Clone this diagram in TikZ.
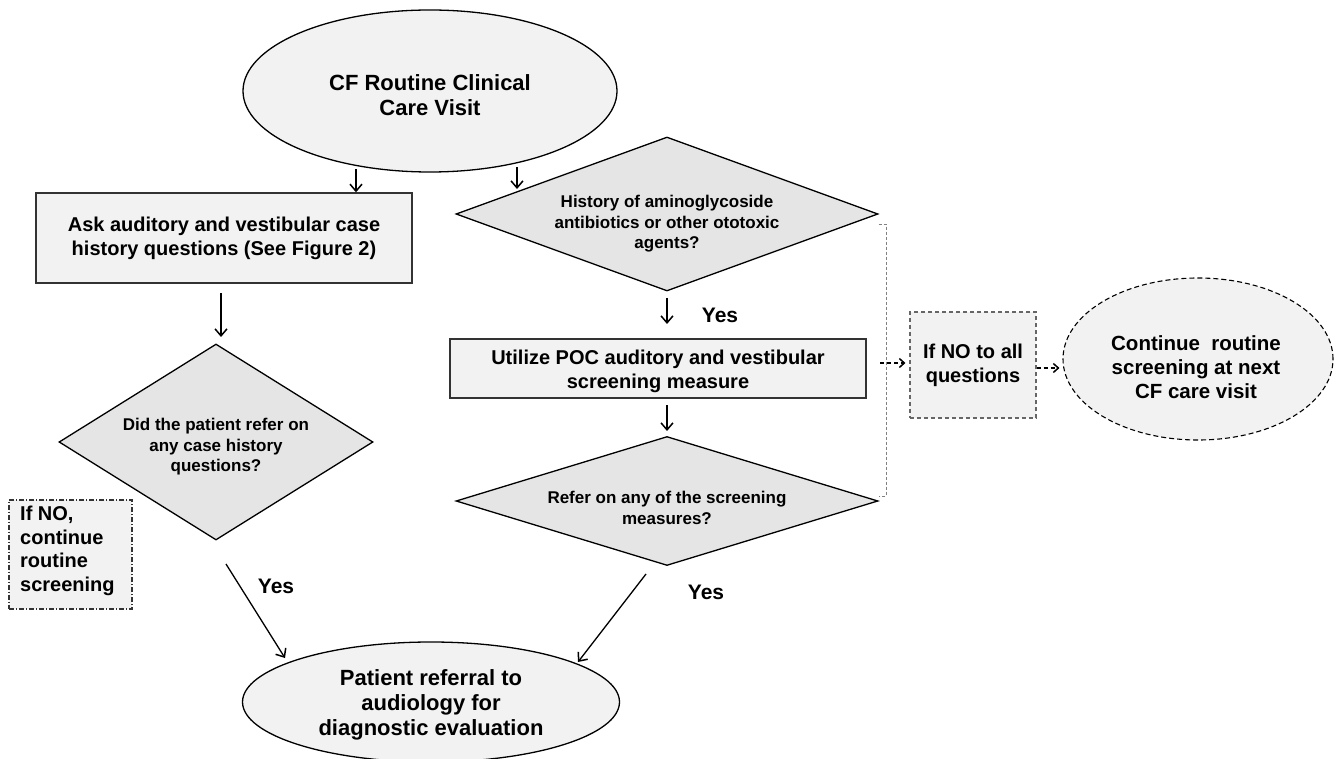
\documentclass[tikz,border=0pt]{standalone}
\usepackage{fontspec}
\setmainfont{Liberation Sans}
\usetikzlibrary{shapes.geometric,arrows.meta}
\definecolor{boxfill}{HTML}{F2F2F2}
\definecolor{diafill}{HTML}{E5E5E5}
\definecolor{edgegray}{HTML}{333333}
\tikzset{
  txtbig/.style={font=\bfseries\fontsize{22}{25}\selectfont, align=center},
  txtmid/.style={font=\bfseries\fontsize{20}{24}\selectfont, align=center},
  txtsmall/.style={font=\bfseries\fontsize{17}{20.5}\selectfont, align=center},
  ellbox/.style={ellipse, draw=black, line width=1.3pt, fill=boxfill, inner sep=0pt},
  rectbox/.style={rectangle, draw=edgegray, line width=1.4pt, fill=boxfill, inner sep=0pt},
  diabox/.style={diamond, draw=black, line width=1.3pt, fill=diafill, inner sep=0pt},
  arr/.style={line width=1.5pt, -{Straight Barb[length=7pt,width=12pt,line width=1.5pt]}},
  darr/.style={line width=1.2pt, dash pattern=on 4pt off 3pt, -{Straight Barb[length=5pt,width=9pt,line width=1.5pt]}},
  bracket/.style={line width=0.7pt, draw=gray, dash pattern=on 3pt off 2pt},
}
\begin{document}
\begin{tikzpicture}[x=1pt,y=-1pt]
\useasboundingbox[fill=white] (0,0) rectangle (1339,759);

% nodes
\node[ellbox, minimum width=374pt, minimum height=162pt] (top) at (430,91) {};
\node[txtbig] (topt) at (430,95) {CF Routine Clinical\\Care Visit};
\node[rectbox, minimum width=376pt, minimum height=90pt, txtmid] (box1) at (224,238) {Ask auditory and vestibular case\\history questions (See Figure 2)};
\node[diabox, minimum width=314pt, minimum height=196pt, shape aspect=1.6] (d1) at (216,442) {};
\node[txtsmall] (d1t) at (216,447) {Did the patient refer on\\any case history\\questions?};
\node[rectangle, draw=edgegray, line width=1.1pt, dash pattern=on 5pt off 2pt on 1pt off 2pt, fill=boxfill, minimum width=123pt, minimum height=109pt] (no1) at (70.5,554.5) {};
\node[font=\bfseries\fontsize{20}{23.5}\selectfont, align=left, anchor=north west, inner sep=0pt] (no1t) at (20,506) {If NO,\\continue\\routine\\screening};

\node[diabox, minimum width=422pt, minimum height=154pt, shape aspect=2.7] (d2) at (667,214) {};
\node[txtsmall] (d2t) at (667,224) {History of aminoglycoside\\antibiotics or other ototoxic\\agents?};
\node[rectbox, minimum width=416pt, minimum height=59pt] (box2) at (658,368.5) {};
\node[txtmid] (box2t) at (658,371) {Utilize POC auditory and vestibular\\screening measure};
\node[diabox, minimum width=422pt, minimum height=129pt, shape aspect=3.2] (d3) at (667,501) {};
\node[txtsmall] (d3t) at (667,508) {Refer on any of the screening\\measures?};

\node[rectangle, draw=gray!80!black, line width=1.1pt, dash pattern=on 4pt off 3pt, fill=boxfill, minimum width=126pt, minimum height=106pt, txtmid] (no2) at (973,365) {If NO to all\\questions};
\node[ellipse, draw=black, line width=1.1pt, dash pattern=on 5pt off 3pt, fill=boxfill, inner sep=0pt, minimum width=270pt, minimum height=162pt] (cont) at (1198,359) {};
\node[font=\bfseries\fontsize{20.5}{24}\selectfont, align=center] (contt) at (1196,367) {Continue\ \ routine\\screening at next\\CF care visit};

\node[ellbox, minimum width=377pt, minimum height=120pt] (ref) at (431,702) {};
\node[txtbig] (reft) at (431,705) {Patient referral to\\audiology for\\diagnostic evaluation};

% labels
\node[font=\bfseries\fontsize{21}{24}\selectfont] (y1) at (720,315) {Yes};
\node[font=\bfseries\fontsize{21}{24}\selectfont] (y2) at (276,586) {Yes};
\node[font=\bfseries\fontsize{21}{24}\selectfont] (y3) at (706,592) {Yes};

% connector coordinates
\coordinate (a1s) at (356,169);
\coordinate (a2s) at (517,167);
\coordinate (a2e) at (517,189);
\coordinate (a3s) at (221,293);
\coordinate (a3e) at (221,337);
\coordinate (a4s) at (667,298);
\coordinate (a4e) at (667,324);
\coordinate (a5s) at (667,405);
\coordinate (a5e) at (667,431);
\coordinate (a6s) at (226,564);
\coordinate (a6e) at (285,658);
\coordinate (a7s) at (646,574);
\coordinate (a7e) at (578,662);
\coordinate (bt) at (886,224);
\coordinate (bb) at (886,496);
\coordinate (bm) at (880,363);

% solid arrows
\draw[arr] (a1s) -- (a1s |- box1.north);
\draw[arr] (a2s) -- (a2e);
\draw[arr] (a3s) -- (a3e);
\draw[arr] (a4s) -- (a4e);
\draw[arr] (a5s) -- (a5e);
\draw[arr, line width=1.3pt] (a6s) -- (a6e);
\draw[arr, line width=1.3pt] (a7s) -- (a7e);

% dashed bracket and arrows
\draw[bracket] (bt -| d2.east) -- (bt) -- (bb) -- (bb -| d3.east);
\draw[darr] (bm) -- ([xshift=-4pt]bm -| no2.west);
\draw[darr] ([yshift=-3pt]no2.east) -- ([xshift=-3pt,yshift=-3pt]no2.east -| cont.west);
\end{tikzpicture}
\end{document}
